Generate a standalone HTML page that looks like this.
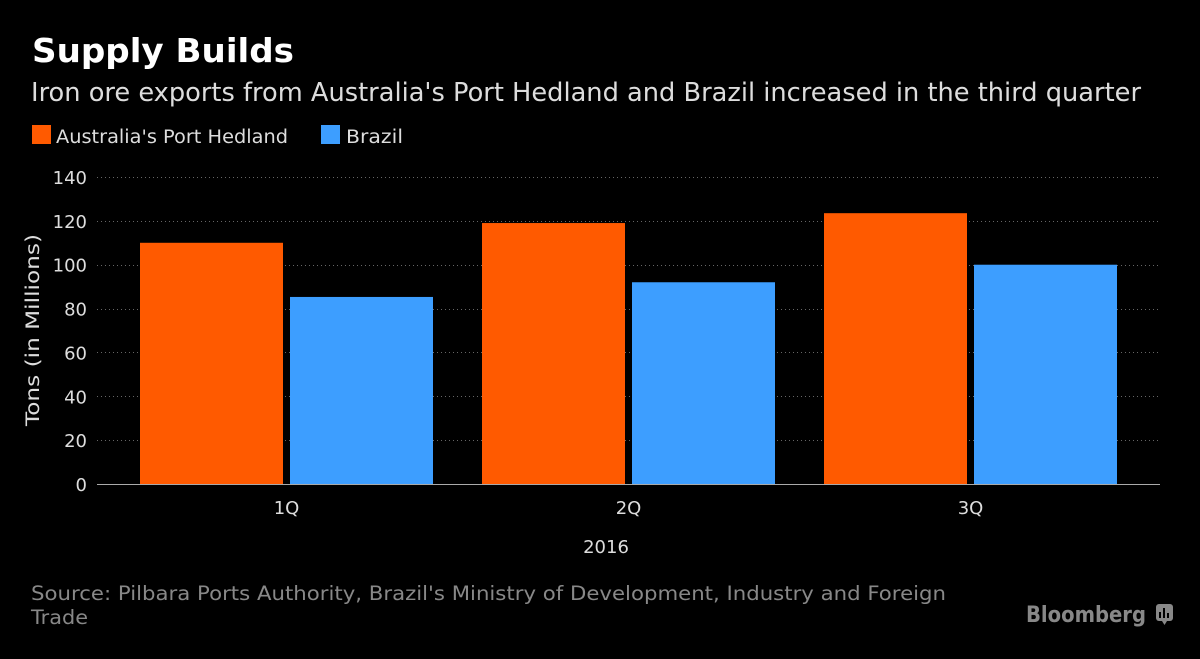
<!DOCTYPE html>
<html><head><meta charset="utf-8"><style>
html,body{margin:0;padding:0;background:#000;}
svg{display:block;}
text{font-family:"DejaVu Sans","Liberation Sans",sans-serif;}
</style></head><body>
<svg id="chart" width="1200" height="659" viewBox="0 0 1200 659" xmlns="http://www.w3.org/2000/svg">
<rect width="1200" height="659" fill="#000"/>
<text x="32" y="62" fill="#fff" font-weight="bold" font-size="33" textLength="262" lengthAdjust="spacingAndGlyphs">Supply Builds</text>
<text x="31" y="101" fill="#ddd" font-size="26" textLength="1110" lengthAdjust="spacingAndGlyphs">Iron ore exports from Australia's Port Hedland and Brazil increased in the third quarter</text>
<g>
<rect x="32" y="125" width="19" height="19" fill="#ff5a00"/>
<text x="56" y="143" fill="#ddd" font-size="18.5" textLength="232" lengthAdjust="spacingAndGlyphs">Australia's Port Hedland</text>
<rect x="321" y="125" width="19" height="19" fill="#3d9eff"/>
<text x="346" y="143" fill="#ddd" font-size="18.5" textLength="57" lengthAdjust="spacingAndGlyphs">Brazil</text>
</g>
<g id="grid"></g>
<g id="bars"></g>
<g id="xlabels"></g>
<line x1="97" y1="484.5" x2="1160" y2="484.5" stroke="#aaa" stroke-width="1"/>
<text x="606" y="553" fill="#ddd" font-size="18" text-anchor="middle">2016</text>
<text transform="translate(39,330) rotate(-90)" fill="#ddd" font-size="18.5" text-anchor="middle" textLength="192" lengthAdjust="spacingAndGlyphs">Tons (in Millions)</text>
<text x="31" y="600" fill="#888" font-size="19.5" textLength="915" lengthAdjust="spacingAndGlyphs">Source: Pilbara Ports Authority, Brazil's Ministry of Development, Industry and Foreign</text>
<text x="31" y="624" fill="#888" font-size="19.5" textLength="57" lengthAdjust="spacingAndGlyphs">Trade</text>
<text x="1026" y="622" fill="#888" font-size="22" font-weight="bold" textLength="120" lengthAdjust="spacingAndGlyphs">Bloomberg</text>
<g>
<rect x="1156" y="604" width="17" height="17" rx="3" fill="#888"/>
<polygon points="1162,621 1167,621 1164.5,625" fill="#888"/>
<rect x="1159" y="612" width="2" height="6" fill="#000"/><rect x="1163" y="608" width="2" height="10" fill="#000"/><rect x="1167" y="613" width="2" height="5" fill="#000"/>
</g>
</svg>
<script>
const categories = ["1Q","2Q","3Q"];
const portHedland = [110, 119, 123.5];
const brazil = [85.3, 92, 100];
const yTicks = [0,20,40,60,80,100,120,140];
const NS="http://www.w3.org/2000/svg";
const y0=484, yTop=177, yMax=140;
function yScale(v){return y0-(v/yMax)*(y0-yTop);}
const plotL=115.5, groupW=342;
function xCenter(i){return plotL+groupW*(i+0.5);}
const grid=document.getElementById('grid');
yTicks.forEach(t=>{
  const y=yScale(t);
  if(t>0){
    const l=document.createElementNS(NS,'line');
    
    
    l.setAttribute('x1',97);l.setAttribute('x2',1160);
    l.setAttribute('y1',Math.round(y)+0.5);l.setAttribute('y2',Math.round(y)+0.5);
    l.setAttribute('stroke','#666');l.setAttribute('stroke-dasharray','1,3');
    grid.appendChild(l);
  }
  const tx=document.createElementNS(NS,'text');
  
  
  tx.setAttribute('x',87);tx.setAttribute('y',y+7);
  tx.setAttribute('text-anchor','end');tx.setAttribute('fill','#ddd');tx.setAttribute('font-size','18');
  tx.textContent=t;grid.appendChild(tx);
});
const bars=document.getElementById('bars');
const xl=document.getElementById('xlabels');
categories.forEach((c,i)=>{
  const cx=xCenter(i);
  [[portHedland,'#ff5a00','port-hedland',cx-146.5],[brazil,'#3d9eff','brazil',cx+3.5]].forEach(s=>{
    const r=document.createElementNS(NS,'rect');
    
    
    const y=yScale(s[0][i]);
    r.setAttribute('x',s[3]);r.setAttribute('width',143);
    r.setAttribute('y',y);r.setAttribute('height',y0-y);
    r.setAttribute('fill',s[1]);bars.appendChild(r);
  });
  const t=document.createElementNS(NS,'text');
  
  
  t.setAttribute('x',cx);t.setAttribute('y',514);t.setAttribute('text-anchor','middle');
  t.setAttribute('fill','#ddd');t.setAttribute('font-size','18');
  t.textContent=c;xl.appendChild(t);
});
</script>
</body></html>
